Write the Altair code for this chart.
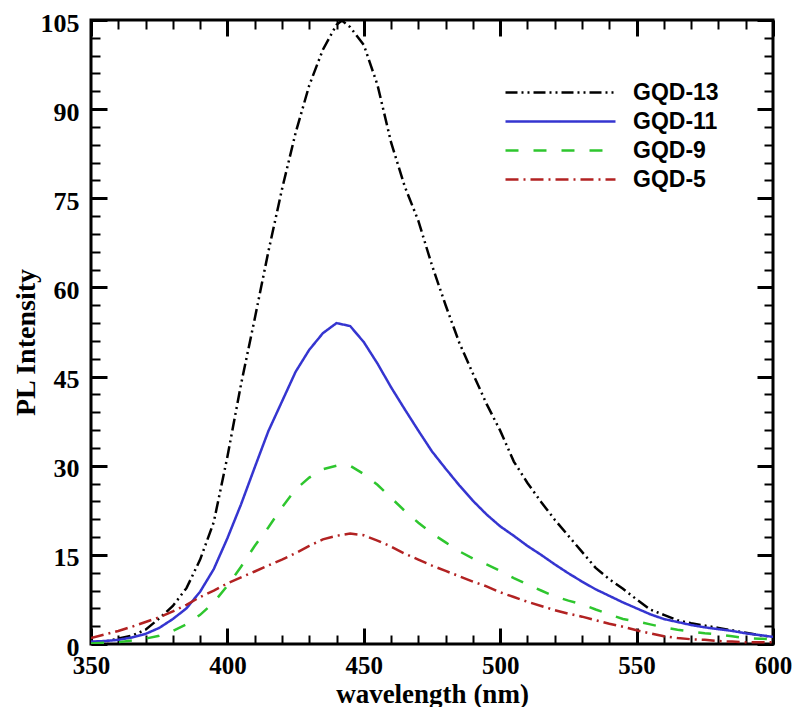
import altair as alt
import pandas as pd

# ---------------- data ----------------
wl = [350, 355, 360, 365, 370, 375, 380, 385, 390, 395, 400, 405, 410, 415, 420,
      425, 430, 435, 440, 445, 450, 455, 460, 465, 470, 475, 480, 485, 490, 495,
      500, 505, 510, 515, 520, 525, 530, 535, 540, 545, 550, 555, 560, 565, 570,
      575, 580, 585, 590, 595, 600]

wl13 = [350, 355, 360, 365, 370, 375, 380, 385, 390, 395, 400, 405, 410, 415, 420,
        425, 430, 435, 440, 442, 445, 450, 455, 460, 465, 470, 475, 480, 485, 490, 495,
        500, 505, 510, 515, 520, 525, 530, 535, 540, 545, 550, 555, 560, 565, 570,
        575, 580, 585, 590, 595, 600]
gqd13 = [0.3, 0.4, 0.9, 1.4, 2.4, 4.3, 6.4, 9.4, 14.2, 20.5, 31.5, 43.7, 54.7, 66.0, 76.5,
         86.0, 94.0, 100.0, 104.2, 104.9, 103.8, 100.8, 94.1, 84.4, 77.0, 71.2, 63.7, 57.0, 50.7, 45.5, 40.4,
         35.9, 30.7, 27.1, 23.9, 20.9, 18.2, 15.5, 12.8, 10.9, 9.3, 7.5, 5.8, 4.9, 4.0, 3.5,
         3.1, 2.7, 2.3, 1.9, 1.5, 1.2]
gqd11 = [0.4, 0.5, 0.7, 1.1, 1.7, 2.7, 4.2, 6.0, 8.8, 12.6, 17.8, 23.5, 29.7, 35.8, 40.8,
         45.8, 49.5, 52.3, 54.0, 53.5, 50.8, 47.2, 43.2, 39.5, 35.9, 32.4, 29.5, 26.7, 24.1, 21.8,
         19.8, 18.2, 16.5, 15.0, 13.4, 11.9, 10.5, 9.2, 8.1, 7.0, 6.0, 5.0, 4.2, 3.7, 3.2,
         2.8, 2.5, 2.2, 1.8, 1.5, 1.2]
gqd9 = [0.1, 0.2, 0.3, 0.6, 0.9, 1.4, 2.2, 3.3, 4.9, 7.0, 9.8, 13.0, 16.5, 19.6, 23.0,
        26.0, 28.0, 29.4, 30.0, 30.0, 28.6, 26.8, 24.6, 22.4, 20.4, 18.6, 17.1, 15.6, 14.4, 13.4,
        12.3, 11.1, 10.0, 9.0, 8.0, 7.3, 6.7, 5.8, 5.0, 4.2, 3.8, 3.3, 2.8, 2.4, 2.1,
        1.8, 1.6, 1.3, 1.0, 0.9, 0.8]
gqd5 = [1.0, 1.6, 2.2, 2.9, 3.7, 4.5, 5.5, 6.6, 7.9, 9.0, 10.2, 11.2, 12.2, 13.2, 14.2,
        15.3, 16.5, 17.6, 18.2, 18.6, 18.3, 17.4, 16.4, 15.2, 14.2, 13.2, 12.3, 11.4, 10.5, 9.7,
        8.7, 7.9, 7.1, 6.4, 5.7, 5.1, 4.6, 4.0, 3.4, 2.9, 2.3, 1.8, 1.3, 1.0, 0.8,
        0.7, 0.5, 0.4, 0.3, 0.3, 0.3]

series_names = ["GQD-13", "GQD-11", "GQD-9", "GQD-5"]
series_colors = ["#000000", "#3535d0", "#2ec62e", "#b22222"]
series_dashes = [[12, 4, 2, 4, 2, 4], [1, 0], [13, 15], [13, 5, 2, 5]]

x_major = [350, 400, 450, 500, 550, 600]
x_minor = list(range(350, 601, 10))
y_major = [0, 15, 30, 45, 60, 75, 90, 105]
y_minor = list(range(0, 106, 3))

# ---------------- table ----------------
frames = []
for name, xs, ys in [("GQD-13", wl13, gqd13), ("GQD-11", wl, gqd11),
                     ("GQD-9", wl, gqd9), ("GQD-5", wl, gqd5)]:
    frames.append(pd.DataFrame({"wavelength": xs, "intensity": ys, "series": name}))
df = pd.concat(frames, ignore_index=True)

W, H = 682, 624
SERIF = "Liberation Serif"
xscale = alt.Scale(domain=[350, 600], nice=False, zero=False)
yscale = alt.Scale(domain=[0, 105], nice=False, zero=True)

legend = alt.Legend(
    title=None, orient="none", legendX=457, legendY=60,
    symbolType="M-5,0H5", symbolSize=484, symbolStrokeWidth=2.5,
    labelFont="Liberation Sans", labelFontWeight="bold", labelFontSize=23,
    labelColor="black", labelOffset=60, rowPadding=4, padding=0,
)

main = alt.Chart(df).mark_line(strokeWidth=2.5, clip=True).encode(
    x=alt.X("wavelength:Q", scale=xscale,
            axis=alt.Axis(values=x_major, ticks=False, domain=False, grid=False,
                          labelFont=SERIF, labelFontWeight="bold", labelFontSize=25,
                          labelColor="black", labelPadding=9, labelFlush=False,
                          labelOverlap=False, format="d",
                          title="wavelength (nm)", titleFont=SERIF,
                          titleFontWeight="bold", titleFontSize=27,
                          titleColor="black", titleBaseline="alphabetic", titleY=58)),
    y=alt.Y("intensity:Q", scale=yscale,
            axis=alt.Axis(values=y_major, ticks=False, domain=False, grid=False,
                          labelFont=SERIF, labelFontWeight="bold", labelFontSize=26,
                          labelColor="black", labelPadding=12, labelFlush=False,
                          labelOverlap=False, labelOffset=3, format="d",
                          title="PL Intensity", titleFont=SERIF,
                          titleFontWeight="bold", titleFontSize=28,
                          titleColor="black", titlePadding=0, titleY=322)),
    color=alt.Color("series:N", scale=alt.Scale(domain=series_names, range=series_colors),
                    legend=legend),
    strokeDash=alt.StrokeDash("series:N",
                              scale=alt.Scale(domain=series_names, range=series_dashes),
                              legend=legend),
)


def tick_axis(orient, values, size, width, offset):
    return alt.Axis(orient=orient, values=values, tickSize=size, tickWidth=width,
                    tickColor="black", labels=False, domain=False, grid=False,
                    title=None, offset=offset)


def tick_layer(xa, ya):
    return alt.Chart(df).mark_point(opacity=0).encode(
        x=alt.X("wavelength:Q", scale=xscale, axis=xa),
        y=alt.Y("intensity:Q", scale=yscale, axis=ya),
    )


layers = [
    main,
    # inward ticks at the bottom / right edges
    tick_layer(tick_axis("top", x_major, 16, 3, -H), tick_axis("right", y_major, 16, 3, -W)),
    tick_layer(tick_axis("top", x_minor, 9, 2, -H), tick_axis("right", y_minor, 9, 2, -W)),
    # inward ticks at the top / left edges
    tick_layer(tick_axis("bottom", x_major, 16, 3, -H), tick_axis("left", y_major, 16, 3, -W)),
    tick_layer(tick_axis("bottom", x_minor, 9, 2, -H), tick_axis("left", y_minor, 9, 2, -W)),
]

chart = alt.layer(*layers).resolve_axis(x="independent", y="independent").properties(
    width=W, height=H,
    autosize=alt.AutoSizeParams(type="none"),
    padding={"left": 83, "top": 12, "right": 19, "bottom": 63},
    background="white",
).configure_view(stroke="black", strokeWidth=3)

chart.save("out.html", embed_options={"renderer": "svg", "actions": False})
